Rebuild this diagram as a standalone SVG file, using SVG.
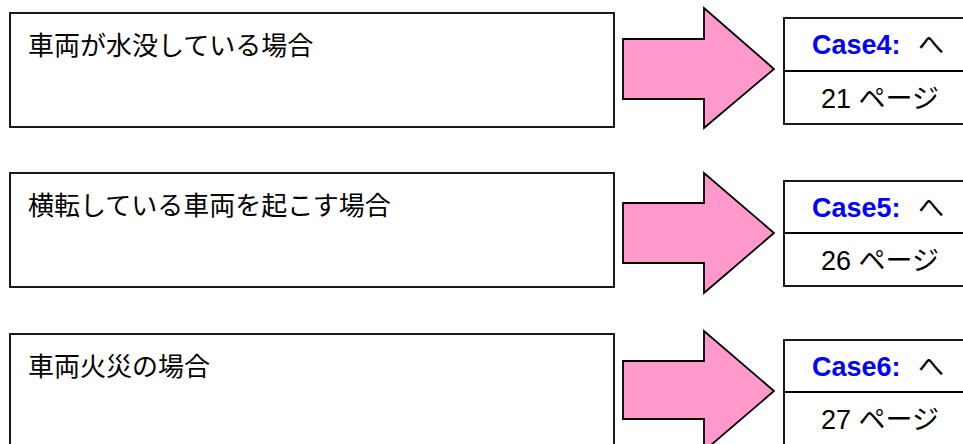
<svg xmlns="http://www.w3.org/2000/svg" width="963" height="444" viewBox="0 0 963 444">
<style>
.box{fill:#fff;stroke:#000;stroke-width:1.8}
.arrow{fill:#FF99CC;stroke:#000;stroke-width:1.8;stroke-linejoin:miter}
.lbl{font-family:"Noto Sans CJK JP","Liberation Sans",sans-serif;font-size:26px;fill:#000}
.case{font-family:"Liberation Sans","Noto Sans CJK JP",sans-serif;font-size:27px;font-weight:bold;fill:#0000FF}
.he{font-family:"Noto Sans CJK JP",sans-serif;font-size:26px;font-weight:normal;fill:#000}
.page{font-family:"Liberation Sans","Noto Sans CJK JP",sans-serif;font-size:27px;fill:#000}
</style>
<rect width="963" height="444" fill="#fff"/>
<g id="case1">
<rect class="box" x="10" y="13" width="604" height="114"/>
<text class="lbl" x="28" y="55">車両が水没している場合</text>
</g>
<g id="case2">
<rect class="box" x="10" y="173" width="604" height="114"/>
<text class="lbl" x="28" y="215">横転している車両を起こす場合</text>
</g>
<g id="case3">
<rect class="box" x="10" y="334" width="604" height="120"/>
<text class="lbl" x="28" y="376">車両火災の場合</text>
</g>
<g id="connectors">
<polygon class="arrow" points="623,39 704,39 704,8 774,69 704,128 704,99 623,99"/>
<polygon class="arrow" points="623,203 704,203 704,173 774,233 704,293 704,263 623,263"/>
<polygon class="arrow" points="623,361 704,361 704,331 774,391 704,451 704,419 623,419"/>
</g>
<g id="ref1">
<rect class="box" x="784" y="18" width="190" height="106"/>
<line x1="784" y1="71" x2="974" y2="71" stroke="#000" stroke-width="1.8"/>
<text class="case" x="812" y="54">Case4:<tspan class="he" x="918">へ</tspan></text>
<text class="page" x="821" y="108">21 ページ</text>
</g>
<g id="ref2">
<rect class="box" x="784" y="181" width="190" height="105"/>
<line x1="784" y1="233" x2="974" y2="233" stroke="#000" stroke-width="1.8"/>
<text class="case" x="812" y="217">Case5:<tspan class="he" x="918">へ</tspan></text>
<text class="page" x="821" y="270">26 ページ</text>
</g>
<g id="ref3">
<rect class="box" x="784" y="340" width="190" height="110"/>
<line x1="784" y1="392" x2="974" y2="392" stroke="#000" stroke-width="1.8"/>
<text class="case" x="812" y="376">Case6:<tspan class="he" x="918">へ</tspan></text>
<text class="page" x="821" y="429">27 ページ</text>
</g>
</svg>
